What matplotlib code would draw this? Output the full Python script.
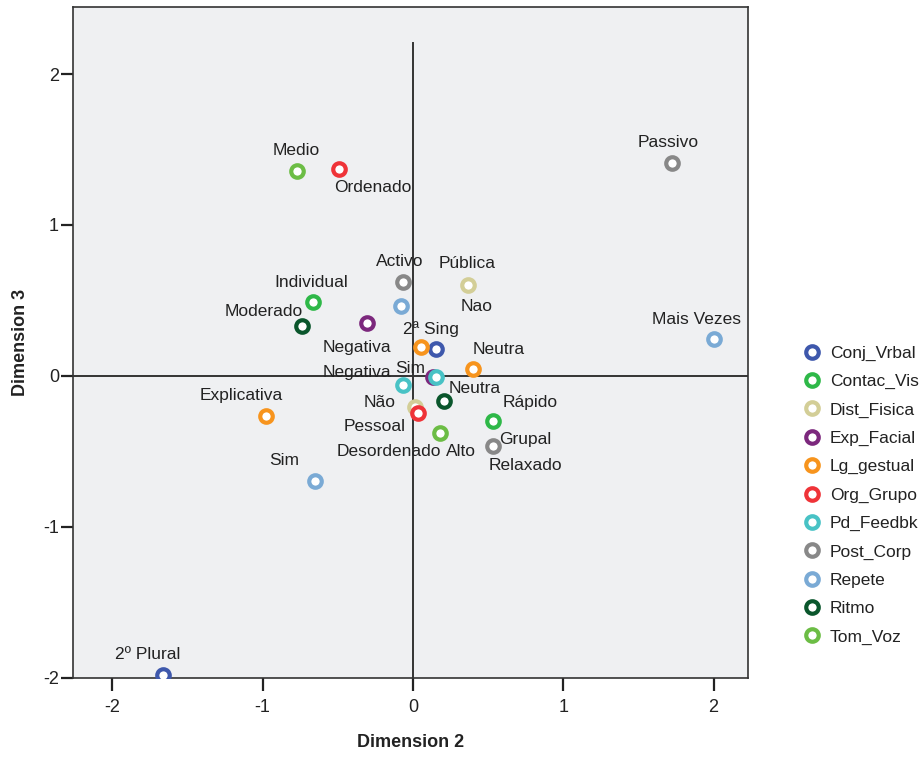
import matplotlib
matplotlib.use("Agg")
import matplotlib.pyplot as plt
from matplotlib.lines import Line2D

plt.rcParams["font.family"] = ["Liberation Sans", "DejaVu Sans"]
plt.rcParams["axes.unicode_minus"] = False

series = ["Conj_Vrbal", "Contac_Vis", "Dist_Fisica", "Exp_Facial", "Lg_gestual",
          "Org_Grupo", "Pd_Feedbk", "Post_Corp", "Repete", "Ritmo", "Tom_Voz"]
colors = ["#3E58AC", "#2EB848", "#D3CE97", "#7C287D", "#F7941D",
          "#EF3338", "#48C2C5", "#888888", "#7AAAD5", "#0A562C", "#6CBD45"]

labels = {
    "Conj_Vrbal": ["2ª Sing", "2º Plural"],
    "Contac_Vis": ["Individual", "Grupal"],
    "Dist_Fisica": ["Pública", "Pessoal"],
    "Exp_Facial": ["Negativa", "Neutra"],
    "Lg_gestual": ["Explicativa", "Negativa", "Neutra"],
    "Org_Grupo": ["Ordenado", "Desordenado"],
    "Pd_Feedbk": ["Sim", "Não"],
    "Post_Corp": ["Passivo", "Activo", "Relaxado"],
    "Repete": ["Mais Vezes", "Nao", "Sim"],
    "Ritmo": ["Moderado", "Rápido"],
    "Tom_Voz": ["Medio", "Alto"],
}
dim2 = {
    "Conj_Vrbal": [0.153, -1.663],
    "Contac_Vis": [-0.665, 0.532],
    "Dist_Fisica": [0.366, 0.013],
    "Exp_Facial": [-0.306, 0.133],
    "Lg_gestual": [-0.978, 0.053, 0.399],
    "Org_Grupo": [-0.492, 0.033],
    "Pd_Feedbk": [0.153, -0.067],
    "Post_Corp": [1.723, -0.067, 0.532],
    "Repete": [2.003, -0.080, -0.652],
    "Ritmo": [-0.739, 0.206],
    "Tom_Voz": [-0.772, 0.180],
}
dim3 = {
    "Conj_Vrbal": [0.179, -1.980],
    "Contac_Vis": [0.490, -0.298],
    "Dist_Fisica": [0.603, -0.205],
    "Exp_Facial": [0.351, -0.007],
    "Lg_gestual": [-0.265, 0.192, 0.046],
    "Org_Grupo": [1.371, -0.245],
    "Pd_Feedbk": [-0.007, -0.060],
    "Post_Corp": [1.411, 0.623, -0.464],
    "Repete": [0.245, 0.464, -0.695],
    "Ritmo": [0.331, -0.166],
    "Tom_Voz": [1.358, -0.377],
}

# label offsets in pixels (layout only)
offsets = {
    "Conj_Vrbal": [(-5, 20), (-15, 20)],
    "Contac_Vis": [(-2, 20), (32, -19)],
    "Dist_Fisica": [(-1, 21), (-40, -20)],
    "Exp_Facial": [(-10, -25), (42, -11)],
    "Lg_gestual": [(-25, 20), (-64, -26), (26, 20)],
    "Org_Grupo": [(34, -19), (-29, -39)],
    "Pd_Feedbk": [(-26, 9), (-23, -17)],
    "Post_Corp": [(-4, 20), (-3, 20), (32, -19)],
    "Repete": [(-18, 19), (76, -1), (-31, 20)],
    "Ritmo": [(-38, 15), (86, -1)],
    "Tom_Voz": [(-1, 20), (21, -19)],
}

fig = plt.figure(figsize=(9.23, 7.57), dpi=100)
ax = fig.add_axes([0.0791, 0.1044, 0.7313, 0.8864])
ax.set_facecolor("#EFF0F2")
ax.set_xlim(-2.262, 2.229)
ax.set_ylim(-2.0, 2.444)

ax.axhline(0, color="#333333", lw=1.4, zorder=1)
ax.axvline(0, ymax=0.946, color="#333333", lw=1.4, zorder=1)

for s, c in zip(series, colors):
    ax.plot(dim2[s], dim3[s], linestyle="none", marker="o", ms=9,
            mfc="white", mec=c, mew=3, zorder=3, clip_on=True)
    for x, y, lab, off in zip(dim2[s], dim3[s], labels[s], offsets[s]):
        ax.annotate(lab, (x, y), xytext=off, textcoords="offset pixels",
                    ha="center", va="center", fontsize=12.5, color="#222222",
                    zorder=4)

ax.set_xticks([-2, -1, 0, 1, 2])
ax.set_yticks([-2, -1, 0, 1, 2])
ax.tick_params(axis="both", direction="out", length=9, width=1.6,
               color="#222222", labelsize=13, labelcolor="#222222")
ax.tick_params(axis="y", pad=1)
ax.tick_params(axis="x", pad=6)
for sp in ax.spines.values():
    sp.set_color("#333333")
    sp.set_linewidth(1.2)

ax.set_xlabel("Dimension 2", fontsize=13, fontweight="bold", color="#222222",
              va="center")
ax.set_ylabel("Dimension 3", fontsize=13, fontweight="bold", color="#222222",
              va="center")
ax.xaxis.set_label_coords(0.5, -0.0969)
ax.yaxis.set_label_coords(-0.0785, 0.5)

handles = [Line2D([], [], linestyle="none", marker="o", ms=9, mfc="white",
                  mec=c, mew=3) for c in colors]
fig.legend(handles, series, loc="center left", bbox_to_anchor=(0.853, 0.346),
           frameon=False, fontsize=12.5, labelspacing=0.755, handletextpad=0.55,
           handlelength=1.0, labelcolor="#222222")

fig.savefig("out.png", dpi=100)
